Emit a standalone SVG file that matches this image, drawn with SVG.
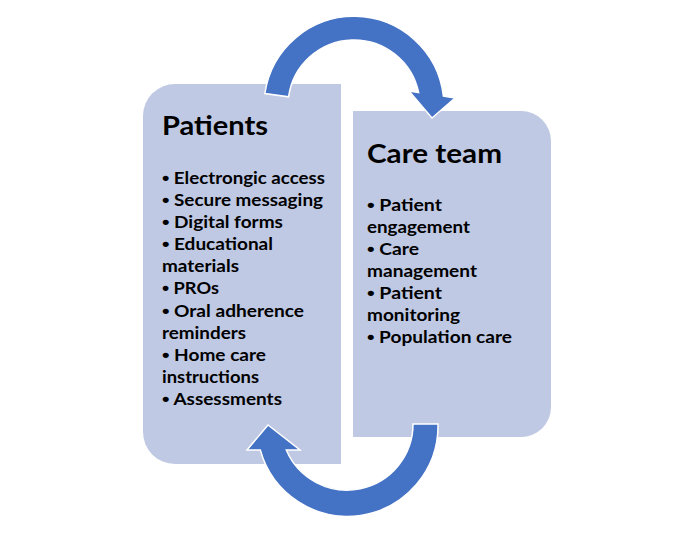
<svg xmlns="http://www.w3.org/2000/svg" width="674" height="545" viewBox="0 0 674 545">
<style>
.box{fill:#BFC9E3;stroke:none}
.arrow{fill:#4472C4;stroke:#FFFFFF;stroke-width:1.5;stroke-linejoin:miter}
.h{font-family:Lato,"Liberation Sans",sans-serif;font-weight:bold;font-size:27px;fill:#000}
.t{font-family:Lato,"Liberation Sans",sans-serif;font-weight:bold;font-size:17px;fill:#000}
.b{font-family:"Liberation Sans",sans-serif;font-size:19px}
</style>
<rect width="674" height="545" fill="#FFFFFF"/>
<g id="node-patients">
<path class="box" d="M175 84 H341 V464 H175 A32 32 0 0 1 143 432 V116 A32 32 0 0 1 175 84 Z"/>
<text class="h" x="162" y="135" textLength="106" lengthAdjust="spacingAndGlyphs">Patients</text>
<text class="t" x="162" y="184" textLength="163" lengthAdjust="spacingAndGlyphs"><tspan class="b">•</tspan> Electrongic access</text>
<text class="t" x="162" y="206" textLength="161" lengthAdjust="spacingAndGlyphs"><tspan class="b">•</tspan> Secure messaging</text>
<text class="t" x="162" y="228" textLength="121" lengthAdjust="spacingAndGlyphs"><tspan class="b">•</tspan> Digital forms</text>
<text class="t" x="162" y="250" textLength="111" lengthAdjust="spacingAndGlyphs"><tspan class="b">•</tspan> Educational</text>
<text class="t" x="162" y="272" textLength="77" lengthAdjust="spacingAndGlyphs">materials</text>
<text class="t" x="162" y="294" textLength="57" lengthAdjust="spacingAndGlyphs"><tspan class="b">•</tspan> PROs</text>
<text class="t" x="162" y="317" textLength="142" lengthAdjust="spacingAndGlyphs"><tspan class="b">•</tspan> Oral adherence</text>
<text class="t" x="162" y="339" textLength="84" lengthAdjust="spacingAndGlyphs">reminders</text>
<text class="t" x="162" y="361" textLength="104" lengthAdjust="spacingAndGlyphs"><tspan class="b">•</tspan> Home care</text>
<text class="t" x="162" y="383" textLength="97" lengthAdjust="spacingAndGlyphs">instructions</text>
<text class="t" x="162" y="405" textLength="120" lengthAdjust="spacingAndGlyphs"><tspan class="b">•</tspan> Assessments</text>
</g>
<g id="node-careteam">
<path class="box" d="M353 111 H521 A30 30 0 0 1 551 141 V407 A30 30 0 0 1 521 437 H353 Z"/>
<text class="h" x="367" y="163" textLength="135" lengthAdjust="spacingAndGlyphs">Care team</text>
<text class="t" x="367" y="211" textLength="75" lengthAdjust="spacingAndGlyphs"><tspan class="b">•</tspan> Patient</text>
<text class="t" x="367" y="233" textLength="103" lengthAdjust="spacingAndGlyphs">engagement</text>
<text class="t" x="367" y="255" textLength="52" lengthAdjust="spacingAndGlyphs"><tspan class="b">•</tspan> Care</text>
<text class="t" x="367" y="277" textLength="110" lengthAdjust="spacingAndGlyphs">management</text>
<text class="t" x="367" y="299" textLength="75" lengthAdjust="spacingAndGlyphs"><tspan class="b">•</tspan> Patient</text>
<text class="t" x="367" y="321" textLength="93" lengthAdjust="spacingAndGlyphs">monitoring</text>
<text class="t" x="367" y="343" textLength="145" lengthAdjust="spacingAndGlyphs"><tspan class="b">•</tspan> Population care</text>
</g>
<g id="connectors">
<path id="arrow-top" class="arrow" d="M264.9 93.5 A90 90 0 0 1 443.4 96.2 L455 98 L432 118 L409 91 L418.6 92.5 A66 66 0 0 0 288.6 96.8 Z"/>
<path id="arrow-bottom" class="arrow" d="M438 424 A90.5 90.5 0 0 1 260.3 450 L247 450 L268 425 L300 450 L286.3 450 A66 66 0 0 0 413 424 Z"/>
</g>
</svg>
